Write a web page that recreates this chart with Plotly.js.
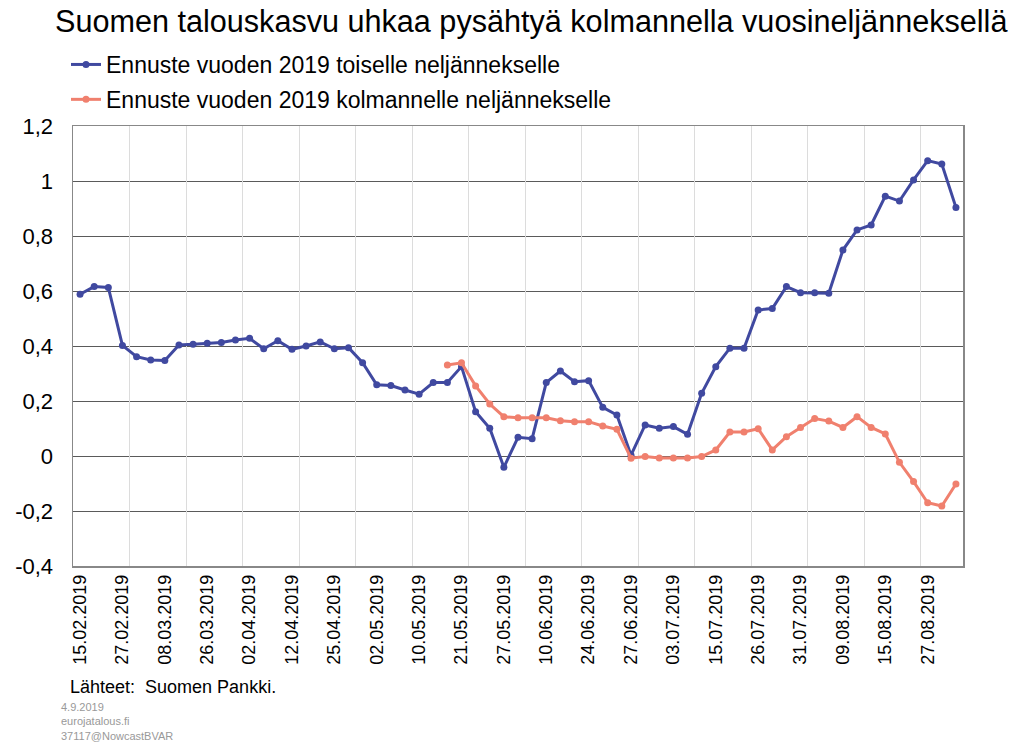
<!DOCTYPE html>
<html>
<head>
<meta charset="utf-8">
<script src="https://cdn.plot.ly/plotly-3.0.1.min.js"></script>
<style>
html,body{margin:0;padding:0;background:#fff;}
#chart{width:1017px;height:742px;}
</style>
</head>
<body>
<div id="chart"></div>
<script>
const dates = [
  "15.02.2019","19.02.2019","22.02.2019","27.02.2019","01.03.2019","05.03.2019","08.03.2019",
  "14.03.2019","20.03.2019","26.03.2019","28.03.2019","29.03.2019","02.04.2019","05.04.2019",
  "09.04.2019","12.04.2019","16.04.2019","18.04.2019","25.04.2019","26.04.2019","30.04.2019",
  "02.05.2019","06.05.2019","08.05.2019","10.05.2019","14.05.2019","17.05.2019","21.05.2019",
  "23.05.2019","24.05.2019","27.05.2019","31.05.2019","05.06.2019","10.06.2019","14.06.2019",
  "19.06.2019","24.06.2019","25.06.2019","26.06.2019","27.06.2019","28.06.2019","01.07.2019",
  "03.07.2019","08.07.2019","12.07.2019","15.07.2019","19.07.2019","23.07.2019","26.07.2019",
  "29.07.2019","30.07.2019","31.07.2019","02.08.2019","06.08.2019","09.08.2019","12.08.2019",
  "14.08.2019","15.08.2019","21.08.2019","23.08.2019","27.08.2019","29.08.2019","03.09.2019"
];

const q2Forecast = [
  0.588,0.616,0.613,0.402,0.361,0.349,0.347,0.404,0.406,0.410,0.413,0.422,0.428,0.390,
  0.419,0.388,0.400,0.415,0.390,0.394,0.339,0.259,0.256,0.240,0.225,0.267,0.267,0.325,
  0.161,0.101,-0.041,0.068,0.063,0.267,0.309,0.270,0.274,0.177,0.149,0.003,0.113,0.101,
  0.107,0.079,0.228,0.325,0.392,0.392,0.531,0.536,0.616,0.594,0.594,0.592,0.749,0.822,
  0.840,0.945,0.927,1.004,1.074,1.062,0.904
];

const q3Forecast = [
  null,null,null,null,null,null,null,null,null,null,null,null,null,null,
  null,null,null,null,null,null,null,null,null,null,null,null,0.331,0.339,
  0.255,0.189,0.143,0.139,0.139,0.139,0.128,0.125,0.125,0.109,0.097,-0.008,-0.002,-0.007,
  -0.007,-0.007,-0.002,0.022,0.087,0.087,0.099,0.022,0.070,0.104,0.136,0.127,0.104,0.143,
  0.104,0.080,-0.023,-0.093,-0.170,-0.182,-0.102
];

const seriesNames = [
  "Ennuste vuoden 2019 toiselle neljännekselle",
  "Ennuste vuoden 2019 kolmannelle neljännekselle"
];

const xTickLabels = dates.filter((d, i) => i % 3 === 0);
const yTickVals = [-0.4, -0.2, 0, 0.2, 0.4, 0.6, 0.8, 1, 1.2];
const yTickText = ["-0,4", "-0,2", "0", "0,2", "0,4", "0,6", "0,8", "1", "1,2"];
// vertical gridlines every 4 categories (category boundaries)
const xGridVals = [];
for (let i = 0; i <= dates.length; i += 4) xGridVals.push(i - 0.5);

const FONT = "Liberation Sans, Arial, Helvetica, sans-serif";
const W = 1017, H = 742;
const M = {l: 73, r: 54, t: 126, b: 176};
const PW = W - M.l - M.r, PH = H - M.t - M.b;
const px = v => (v - M.l) / PW;           // page x -> paper x
const py = v => (H - M.b - v) / PH;       // page y -> paper y

const traces = [
  {
    x: dates, y: q2Forecast, name: seriesNames[0], type: "scatter", mode: "lines+markers",
    line: {color: "#4049A0", width: 3}, marker: {color: "#4049A0", size: 7},
    legendgroup: "a", connectgaps: false
  },
  {
    x: dates, y: q3Forecast, name: seriesNames[1], type: "scatter", mode: "lines+markers",
    line: {color: "#F0806E", width: 3}, marker: {color: "#F0806E", size: 7},
    legendgroup: "b", connectgaps: false
  },
  // empty trace so the overlaid grid axis is drawn
  {x: [], y: [], xaxis: "x2", yaxis: "y", type: "scatter", mode: "lines",
   showlegend: false, hoverinfo: "skip"}
];

const layout = {
  width: W, height: H,
  paper_bgcolor: "#ffffff", plot_bgcolor: "#ffffff",
  font: {family: FONT, color: "#000"},
  margin: {l: M.l, r: M.r, t: M.t, b: M.b, autoexpand: false},
  title: {
    text: "Suomen talouskasvu uhkaa pysähtyä kolmannella vuosineljänneksellä",
    font: {family: FONT, size: 30.6, color: "#000"},
    xref: "container", x: 55/W, xanchor: "left",
    yref: "container", y: 1 - 21/H, yanchor: "middle"
  },
  showlegend: true,
  legend: {
    xref: "paper", x: px(66), xanchor: "left",
    yref: "paper", y: py(43), yanchor: "top",
    orientation: "v", traceorder: "grouped", tracegroupgap: 2,
    font: {family: FONT, size: 23, color: "#000"},
    bgcolor: "rgba(0,0,0,0)"
  },
  xaxis: {
    type: "category", categoryorder: "array", categoryarray: dates,
    range: [-0.5, dates.length - 0.5],
    tickmode: "array", tickvals: xTickLabels, ticktext: xTickLabels,
    tickangle: -90, tickfont: {family: FONT, size: 18, color: "#000"},
    showgrid: false, zeroline: false, ticks: "",
    showline: true, linecolor: "#888888", linewidth: 1.5, mirror: true,
    fixedrange: true
  },
  xaxis2: {
    overlaying: "x", anchor: "y", side: "bottom", type: "linear",
    range: [-0.5, dates.length - 0.5],
    tickmode: "array", tickvals: xGridVals,
    showticklabels: false, showgrid: true, gridcolor: "#dcdcdc", gridwidth: 1,
    zeroline: false, ticks: "", showline: false, fixedrange: true
  },
  yaxis: {
    range: [-0.4, 1.2], tickmode: "array", tickvals: yTickVals, ticktext: yTickText,
    tickfont: {family: FONT, size: 22, color: "#000"},
    showgrid: true, gridcolor: "#5a5a5a", gridwidth: 1, zeroline: false,
    ticks: "", ticklabelstandoff: 14,
    showline: true, linecolor: "#888888", linewidth: 1.5, mirror: true,
    fixedrange: true
  },
  annotations: [
    {text: "Lähteet:  Suomen Pankki.", xref: "paper", yref: "paper",
     x: px(68), y: py(687),
     xanchor: "left", yanchor: "middle", showarrow: false,
     font: {family: FONT, size: 18, color: "#000"}},
    {text: "4.9.2019<br>eurojatalous.fi<br>37117@NowcastBVAR",
     xref: "paper", yref: "paper", x: px(59), y: py(699),
     xanchor: "left", yanchor: "top", align: "left", showarrow: false,
     font: {family: FONT, size: 11, color: "#999999"}}
  ]
};

Plotly.newPlot("chart", traces, layout, {displayModeBar: false, staticPlot: true});
</script>
</body>
</html>
